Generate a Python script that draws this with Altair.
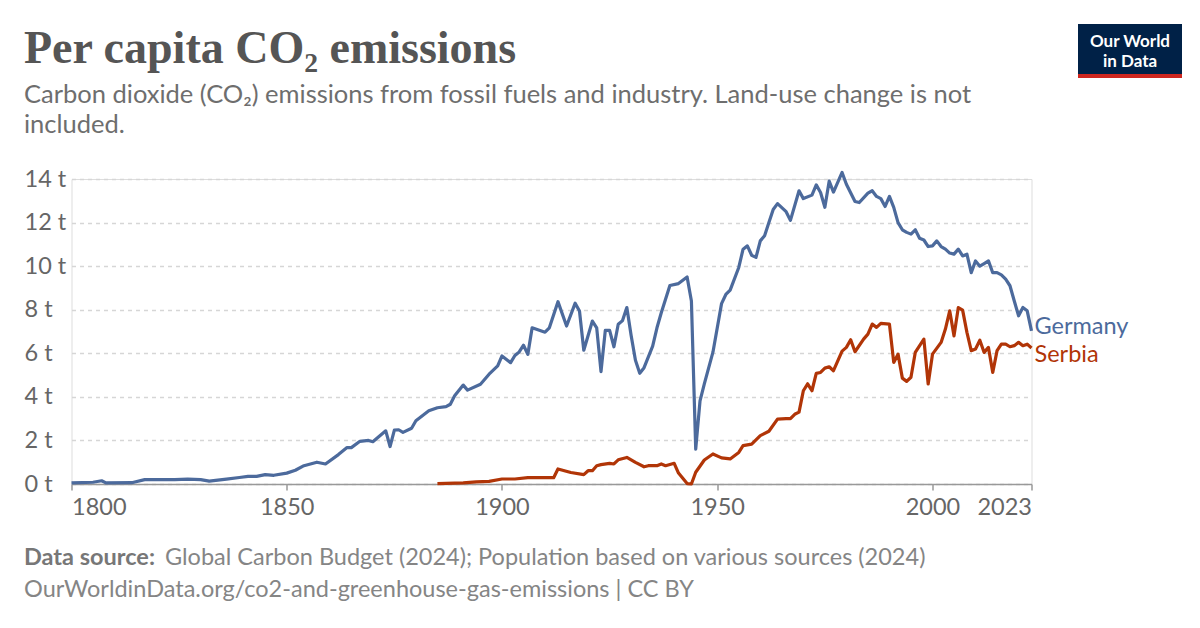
import altair as alt
import pandas as pd

# ---- data ----
germany_years = [1800, 1805, 1807, 1808, 1814, 1817, 1824, 1827, 1830, 1832, 1836, 1839, 1841, 1843,
                 1845, 1847, 1850, 1852, 1854, 1857, 1859, 1862, 1864, 1865, 1867, 1869, 1870, 1873,
                 1874, 1875, 1876, 1877, 1879, 1880, 1883, 1885, 1887, 1888, 1889, 1891, 1892, 1895,
                 1897, 1899, 1900, 1902, 1903, 1904, 1905, 1906, 1907, 1910, 1911, 1913, 1915, 1917,
                 1918, 1919, 1921, 1922, 1923, 1924, 1925, 1926, 1927, 1928, 1929, 1930, 1931, 1932,
                 1933, 1935, 1936, 1937, 1939, 1941, 1943, 1944, 1945, 1946, 1947, 1949, 1951, 1952,
                 1953, 1955, 1956, 1957, 1958, 1959, 1960, 1961, 1962, 1963, 1964, 1966, 1967, 1969,
                 1970, 1972, 1973, 1974, 1975, 1976, 1977, 1979, 1980, 1982, 1983, 1985, 1986, 1987,
                 1988, 1989, 1990, 1991, 1992, 1993, 1994, 1995, 1996, 1997, 1998, 1999, 2000, 2001,
                 2002, 2003, 2004, 2005, 2006, 2007, 2008, 2009, 2010, 2011, 2012, 2013, 2014, 2015,
                 2016, 2017, 2018, 2019, 2020, 2021, 2022, 2023]
germany_values = [0.05, 0.08, 0.15, 0.05, 0.06, 0.2, 0.2, 0.22, 0.2, 0.13, 0.22, 0.3, 0.35, 0.35,
                  0.43, 0.4, 0.5, 0.63, 0.84, 1.0, 0.92, 1.35, 1.67, 1.67, 1.96, 2.0, 1.94, 2.44,
                  1.72, 2.47, 2.49, 2.37, 2.56, 2.9, 3.36, 3.5, 3.55, 3.66, 4.05, 4.54, 4.31, 4.58,
                  5.04, 5.42, 5.88, 5.57, 5.9, 6.06, 6.37, 5.95, 7.17, 6.97, 7.17, 8.37, 7.25, 8.3,
                  7.94, 6.14, 7.48, 7.17, 5.16, 7.05, 7.05, 6.3, 7.33, 7.5, 8.1, 6.82, 5.68, 5.08,
                  5.34, 6.33, 7.17, 7.86, 9.11, 9.2, 9.5, 8.4, 1.6, 3.82, 4.6, 6.05, 8.28, 8.7,
                  8.9, 9.94, 10.78, 10.93, 10.5, 10.4, 11.16, 11.4, 12.0, 12.6, 12.87, 12.5, 12.1, 13.46,
                  13.1, 13.26, 13.73, 13.38, 12.7, 13.9, 13.4, 14.3, 13.76, 12.97, 12.92, 13.35, 13.46, 13.2,
                  13.1, 12.74, 13.2, 12.7, 12.0, 11.67, 11.55, 11.47, 11.67, 11.28, 11.2, 10.9, 10.93, 11.16,
                  10.9, 10.78, 10.6, 10.55, 10.78, 10.47, 10.55, 9.7, 10.24, 10.0, 10.12, 10.24, 9.7, 9.7,
                  9.6, 9.4, 9.1, 8.4, 7.72, 8.1, 7.95, 7.03]

serbia_years = [1885, 1891, 1894, 1897, 1900, 1903, 1906, 1910, 1912, 1913, 1916, 1919, 1920, 1921,
                1922, 1923, 1925, 1926, 1927, 1929, 1931, 1933, 1934, 1936, 1937, 1938, 1940, 1941,
                1943, 1944, 1945, 1947, 1949, 1951, 1953, 1955, 1956, 1958, 1960, 1962, 1964, 1966,
                1967, 1968, 1969, 1970, 1971, 1972, 1973, 1974, 1975, 1976, 1977, 1979, 1980, 1981,
                1982, 1984, 1985, 1986, 1987, 1988, 1990, 1991, 1992, 1993, 1994, 1995, 1996, 1998,
                1999, 2000, 2002, 2003, 2004, 2005, 2006, 2007, 2008, 2009, 2010, 2011, 2012, 2013,
                2014, 2015, 2016, 2017, 2018, 2019, 2020, 2021, 2022, 2023]
serbia_values = [0.02, 0.05, 0.1, 0.12, 0.23, 0.23, 0.29, 0.29, 0.29, 0.69, 0.53, 0.43, 0.61, 0.61,
                 0.84, 0.89, 0.95, 0.92, 1.11, 1.22, 0.99, 0.79, 0.84, 0.84, 0.92, 0.84, 0.95, 0.5,
                 0.02, 0.0, 0.54, 1.1, 1.38, 1.2, 1.15, 1.45, 1.76, 1.83, 2.22, 2.42, 2.98, 3.0,
                 3.0, 3.2, 3.3, 4.28, 4.6, 4.28, 5.08, 5.12, 5.32, 5.38, 5.2, 6.1, 6.27, 6.62,
                 6.07, 6.65, 6.88, 7.34, 7.19, 7.37, 7.34, 5.58, 5.96, 4.86, 4.71, 4.9, 6.04, 6.65,
                 4.59, 5.96, 6.5, 7.11, 7.95, 6.8, 8.1, 7.98, 6.96, 6.12, 6.2, 6.6, 6.04, 6.27,
                 5.12, 6.12, 6.42, 6.42, 6.3, 6.35, 6.5, 6.35, 6.42, 6.24]

countries = ["Germany", "Serbia"]
colors = ["#4C6A9C", "#B13507"]
y_ticks = [0, 2, 4, 6, 8, 10, 12, 14]
x_ticks = [1800, 1850, 1900, 1950, 2000, 2023]

title_text = "Per capita CO₂ emissions"
subtitle_lines = ["Carbon dioxide (CO₂) emissions from fossil fuels and industry. Land-use change is not",
                  "included."]
source_bold = "Data source:"
source_rest = "Global Carbon Budget (2024); Population based on various sources (2024)"
footer_line2 = "OurWorldinData.org/co2-and-greenhouse-gas-emissions | CC BY"

df = pd.concat([
    pd.DataFrame({"country": "Germany", "year": germany_years, "value": germany_values}),
    pd.DataFrame({"country": "Serbia", "year": serbia_years, "value": serbia_values}),
])

W, H = 960, 305
LEFT = 63.5
TOP = 171

color_scale = alt.Scale(domain=countries, range=colors)
x_scale = alt.Scale(domain=[1800, 2023], nice=False, zero=False)
y_scale = alt.Scale(domain=[0, 14], nice=False)

lines = alt.Chart(df).mark_line(strokeWidth=3.2, clip=False, strokeJoin="round").encode(
    x=alt.X("year:Q", scale=x_scale,
            axis=alt.Axis(values=x_ticks, title=None, format="d", grid=False,
                          labelFont="Lato", labelFontSize=23.5, labelColor="#666666",
                          labelPadding=5, tickSize=6, tickColor="#999999",
                          domainColor="#999999", domainWidth=1.5, tickWidth=1.5,
                          labelAlign=alt.expr("datum.value == 1800 ? 'left' : (datum.value == 2023 ? 'right' : 'center')"),
                          labelFlush=False)),
    y=alt.Y("value:Q", scale=y_scale,
            axis=alt.Axis(values=y_ticks, title=None, labelExpr="datum.value + ' t'",
                          labelFont="Lato", labelFontSize=23.5, labelColor="#666666",
                          labelAlign="left", labelPadding=47.5, tickSize=0, domain=False,
                          grid=True, gridColor="#d6d6d6", gridDash=[4, 4], gridWidth=1.3)),
    color=alt.Color("country:N", scale=color_scale, legend=None),
    detail="country:N",
)


def end_label(name, years, values, color, dy):
    d = pd.DataFrame({"country": [name], "year": [years[-1]], "value": [values[-1]]})
    return alt.Chart(d).mark_text(align="left", baseline="middle", font="Lato", fontSize=23.5,
                                  dx=3, dy=dy, color=color).encode(
        x=alt.X("year:Q", scale=x_scale),
        y=alt.Y("value:Q", scale=y_scale),
        text="country:N",
    )


labels = [
    end_label("Germany", germany_years, germany_values, colors[0], -4),
    end_label("Serbia", serbia_years, serbia_values, colors[1], 7),
]


def txt(s, x, y, size, color, font="Lato", weight="normal", align="left"):
    return alt.Chart(pd.DataFrame({"t": [s]})).mark_text(
        align=align, baseline="alphabetic", font=font, fontSize=size, color=color, fontWeight=weight
    ).encode(text="t:N", x=alt.value(x), y=alt.value(y))


def py(page_y):
    return page_y - 8 - TOP


def px(page_x):
    return page_x - 8 - LEFT


texts = [
    txt(title_text, px(24), py(63), 46, "#555555", font="Liberation Serif", weight="bold"),
    txt(subtitle_lines[0], px(24), py(103), 25.5, "#6e6e6e"),
    txt(subtitle_lines[1], px(24), py(133), 25.5, "#6e6e6e"),
    txt(source_bold, px(24), py(565), 23.5, "#777777", weight="bold"),
    txt(source_rest, px(165), py(565), 23.5, "#858585"),
    txt(footer_line2, px(24), py(597), 23.5, "#858585"),
]

one = pd.DataFrame({"a": [1]})
logo_bg = alt.Chart(one).mark_rect(color="#002147").encode(
    x=alt.value(px(1078)), x2=alt.value(px(1182)), y=alt.value(py(24)), y2=alt.value(py(78)))
logo_red = alt.Chart(one).mark_rect(color="#CE261E").encode(
    x=alt.value(px(1078)), x2=alt.value(px(1182)), y=alt.value(py(74)), y2=alt.value(py(78)))
logo_t1 = txt("Our World", px(1130), py(47), 17, "#ffffff", weight="bold", align="center")
logo_t2 = txt("in Data", px(1130), py(67), 17, "#ffffff", weight="bold", align="center")

chart = alt.layer(lines, *labels, *texts, logo_bg, logo_red, logo_t1, logo_t2).properties(
    width=W, height=H,
    autosize=alt.AutoSizeParams(type="none"),
    padding={"left": LEFT, "top": TOP, "right": 1184 - LEFT - W, "bottom": 612 - TOP - H},
).configure_view(stroke=None).configure(background="#ffffff")

chart.save("out.html", embed_options={"renderer": "svg", "actions": False})
